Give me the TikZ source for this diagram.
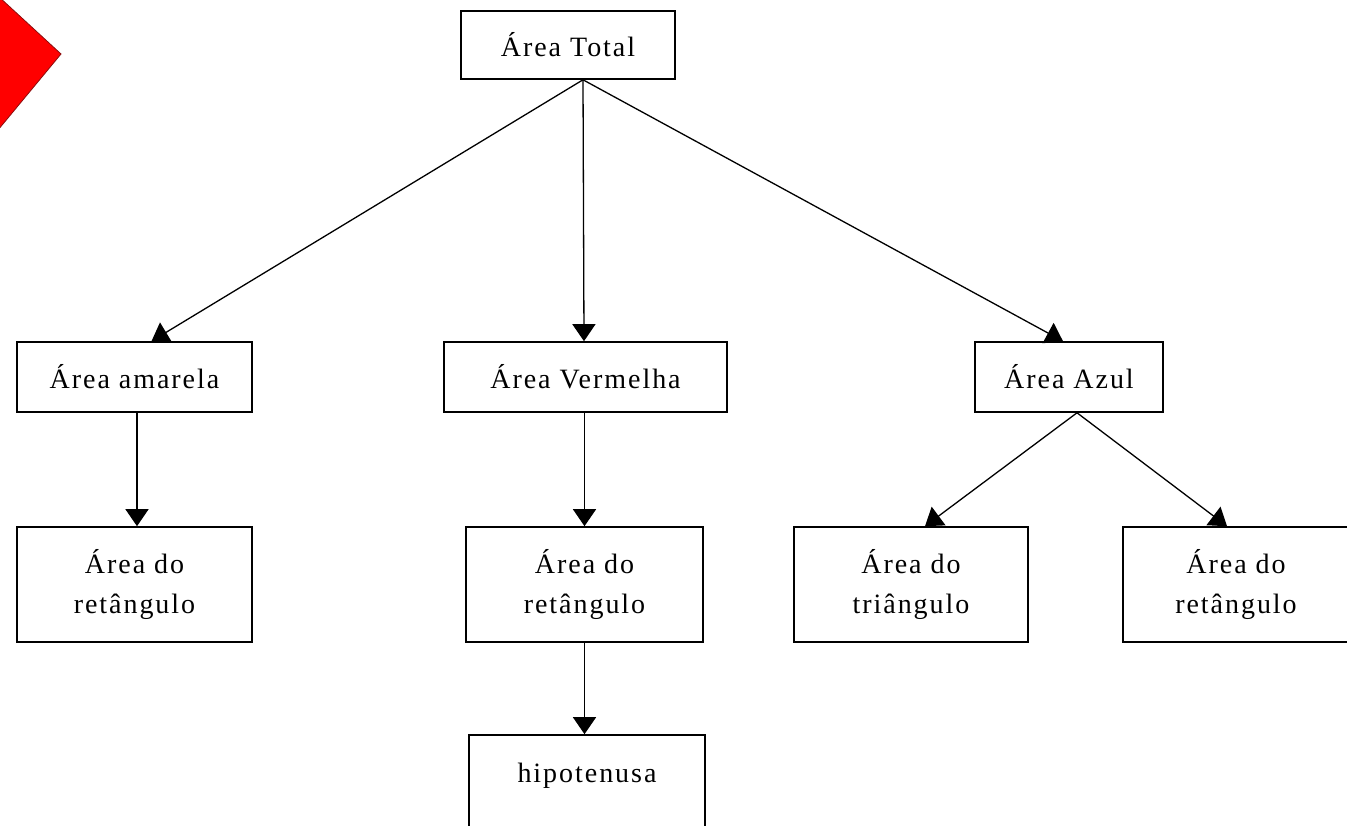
\documentclass[tikz,border=0pt]{standalone}
\usepackage{fontspec}
\setmainfont[LetterSpace=7]{Liberation Serif}
\usetikzlibrary{arrows.meta}

\tikzset{
  areabox/.style={draw=drawColor,line width=1.6pt,fill=white,inner sep=0pt,
    align=center,font=\fontsize{28}{40}\selectfont,text=drawColor},
  areaarrow/.style={draw=drawColor,line width=1.3pt,
    -{Triangle[width=23pt,length=17pt]}}
}

\begin{document}
\begin{tikzpicture}[x=1pt,y=1pt]
\definecolor[named]{drawColor}{rgb}{0.00,0.00,0.00}
\definecolor[named]{markColor}{rgb}{1.00,0.00,0.00}
\definecolor[named]{markEdge}{rgb}{0.55,0.05,0.05}
\path[use as bounding box,fill=white] (0,0) rectangle (1347,825);
\begin{scope}
\path[clip] (0,0) rectangle (1347,825);

\path[fill=markColor,draw=markEdge,line width=0.8pt] (-2,829) -- (61,771) -- (-2,695) -- cycle;

\node[areabox,minimum width=214pt,minimum height=68pt] (total) at (568,780) {Área Total};

\node[areabox,minimum width=235pt,minimum height=70pt] (amarela) at (134.5,448) {Área amarela};
\node[areabox,minimum width=283pt,minimum height=70pt] (vermelha) at (585.5,448) {Área Vermelha};
\node[areabox,minimum width=188pt,minimum height=70pt] (azul) at (1069,448) {Área Azul};

\node[areabox,minimum width=235pt,minimum height=115pt] (retL) at (134.5,240.5) {Área do\\retângulo};
\node[areabox,minimum width=237pt,minimum height=115pt] (retM) at (584.5,240.5) {Área do\\retângulo};
\node[areabox,minimum width=234pt,minimum height=115pt] (tri) at (911,240.5) {Área do\\triângulo};
\node[areabox,minimum width=226pt,minimum height=115pt] (retR) at (1236,240.5) {Área do\\retângulo};

\node[areabox,minimum width=236pt,minimum height=115pt] (hipo) at (587,32.5) {hipotenusa\\\mbox{}};

\path[areaarrow] ([xshift=15pt]total.south) -- ([xshift=17pt]amarela.north);
\path[areaarrow] ([xshift=15pt]total.south) -- ([xshift=-1.5pt]vermelha.north);
\path[areaarrow] ([xshift=15pt]total.south) -- ([xshift=-6pt]azul.north);

\path[areaarrow] ([xshift=2.5pt]amarela.south) -- ([xshift=2.5pt]retL.north);
\path[areaarrow] ([xshift=-1pt]vermelha.south) -- (retM.north);
\path[areaarrow] (retM.south) -- ([xshift=-2.5pt]hipo.north);

\path[areaarrow] ([xshift=8pt]azul.south) -- ([xshift=14pt]tri.north);
\path[areaarrow] ([xshift=8pt]azul.south) -- ([xshift=-9pt]retR.north);
\end{scope}
\end{tikzpicture}
\end{document}
